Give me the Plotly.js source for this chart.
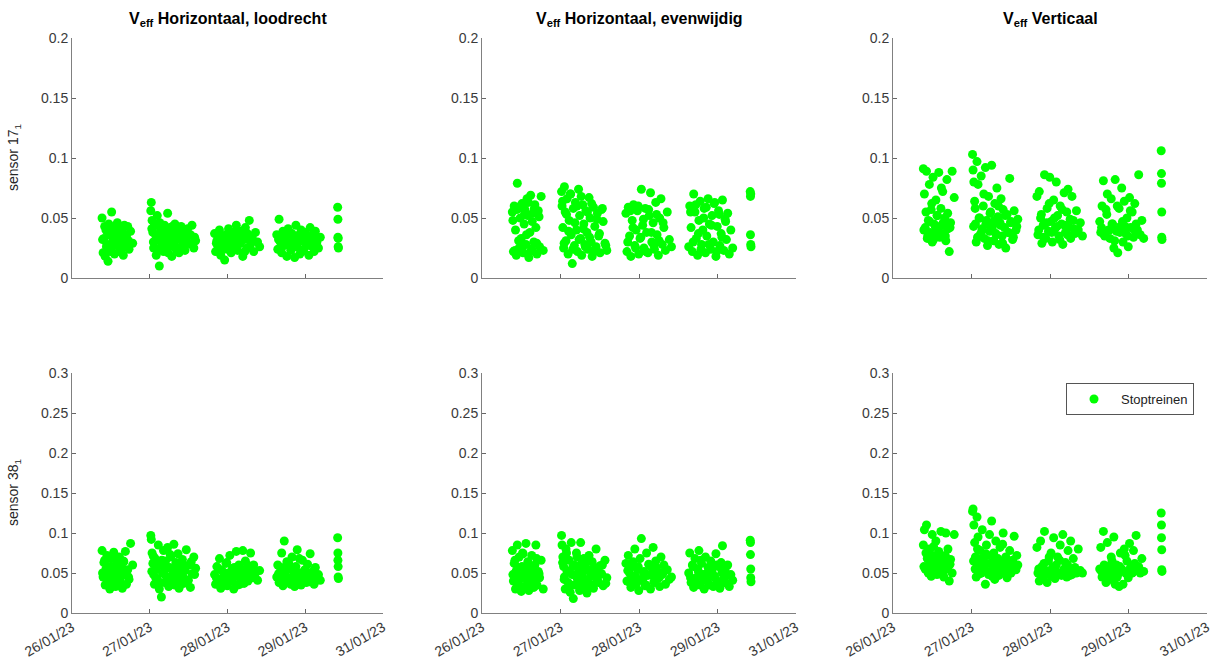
<!DOCTYPE html>
<html>
<head>
<meta charset="utf-8">
<script src="https://cdn.plot.ly/plotly-3.0.1.min.js"></script>
<style>html,body{margin:0;padding:0;background:#fff;}#chart{width:1218px;height:668px;}</style>
</head>
<body>
<div id="chart"></div>
<script>
// hours since 26/01/23 00:00, shared by all panels (same trains)
const hoursDay1 = [11.6,12.0,12.3,12.8,13.1,13.5,13.9,14.2,14.6,15.0,15.3,15.7,16.1,16.4,16.8,17.2,17.5,17.9,18.3,18.6,19.0,19.4,19.8,20.2,20.6,21.0,21.5,22.0,22.6,23.4];
const hoursDay2 = [30.4,30.6,30.9,31.2,31.5,31.8,32.1,32.5,32.9,33.3,33.7,34.1,34.5,34.9,35.3,35.7,36.1,36.5,36.9,37.3,37.7,38.1,38.5,38.9,39.3,39.7,40.1,40.5,40.9,41.3,41.7,42.1,42.6,43.1,43.6,44.1,44.6,45.1,45.7,46.3,47.0,47.7];
const hoursDay3 = [55.0,55.4,55.9,56.4,56.9,57.4,57.9,58.4,58.9,59.4,59.9,60.4,60.9,61.4,61.9,62.4,62.9,63.4,63.9,64.4,64.9,65.4,65.9,66.4,66.9,67.4,67.9,68.4,68.9,69.5,70.1,70.8,71.6,72.4];
const hoursDay4 = [79.0,79.4,79.9,80.4,80.9,81.4,81.9,82.4,82.9,83.4,83.9,84.4,84.9,85.4,85.9,86.4,86.9,87.4,87.9,88.4,88.9,89.4,89.9,90.4,90.9,91.4,91.9,92.4,92.9,93.4,93.9,94.5,95.1,95.8];
const hoursDay5 = [102.5,102.6,102.6,102.7,102.7,102.8];
const hoursDay1b = [11.8,12.6,13.3,14.0,14.8,15.5,16.2,17.0,17.7,18.5,19.2,20.0,20.9,21.8];
const hoursDay2b = [30.8,31.4,32.3,33.1,33.9,34.7,35.5,36.3,37.1,37.9,38.7,39.5,40.3,41.1,41.9,42.9,43.9,44.9,46.0,47.3];
const hoursDay3b = [55.7,56.7,57.7,58.7,59.7,60.7,61.7,62.7,63.7,64.7,65.7,66.7,67.7,69.2];
const hoursDay4b = [79.7,80.7,81.7,82.7,83.7,84.7,85.7,86.7,87.7,88.7,89.7,90.7,91.7,93.1];

// sensor 17_1, Horizontaal loodrecht
const s17HorLood = [
  0.050,0.021,0.033,0.018,0.040,0.028,0.014,0.045,0.036,0.025,0.055,0.031,0.042,0.020,0.038,0.027,0.046,0.034,0.022,0.041,0.030,0.037,0.019,0.044,0.026,0.035,0.043,0.024,0.039,0.029,
  0.056,0.063,0.048,0.038,0.025,0.045,0.031,0.019,0.052,0.034,0.010,0.041,0.027,0.036,0.022,0.044,0.030,0.039,0.054,0.026,0.033,0.042,0.018,0.037,0.029,0.045,0.024,0.035,0.040,0.021,0.032,0.043,0.027,0.038,0.023,0.034,0.041,0.029,0.036,0.044,0.025,0.031,
  0.037,0.022,0.031,0.026,0.040,0.019,0.034,0.028,0.015,0.036,0.024,0.041,0.030,0.021,0.038,0.027,0.033,0.044,0.023,0.035,0.029,0.039,0.018,0.032,0.042,0.025,0.036,0.048,0.028,0.034,0.022,0.038,0.030,0.026,
  0.036,0.024,0.049,0.030,0.021,0.039,0.027,0.034,0.018,0.041,0.029,0.023,0.037,0.032,0.017,0.044,0.026,0.035,0.020,0.040,0.031,0.024,0.038,0.028,0.033,0.019,0.042,0.027,0.036,0.022,0.039,0.030,0.025,0.034,
  0.059,0.049,0.034,0.026,0.033,0.025,
  0.032,0.043,0.026,0.038,0.022,0.035,0.029,0.041,0.033,0.024,0.039,0.028,0.036,0.031,
  0.041,0.030,0.036,0.024,0.046,0.033,0.028,0.039,0.021,0.035,0.043,0.027,0.032,0.038,0.025,0.040,0.030,0.036,0.028,0.034,
  0.029,0.035,0.023,0.033,0.027,0.037,0.031,0.025,0.040,0.029,0.034,0.022,0.037,0.031,
  0.032,0.026,0.035,0.029,0.038,0.024,0.033,0.028,0.036,0.022,0.031,0.035,0.027,0.033];
// sensor 17_1, Horizontaal evenwijdig
const s17HorEven = [
  0.055,0.022,0.060,0.040,0.019,0.079,0.058,0.025,0.050,0.033,0.062,0.021,0.045,0.057,0.028,0.066,0.052,0.017,0.038,0.069,0.024,0.054,0.030,0.061,0.042,0.020,0.056,0.026,0.068,0.023,
  0.072,0.060,0.042,0.025,0.076,0.055,0.031,0.066,0.020,0.048,0.070,0.036,0.012,0.058,0.027,0.063,0.040,0.022,0.074,0.052,0.033,0.019,0.061,0.045,0.028,0.056,0.038,0.024,0.067,0.050,0.030,0.018,0.059,0.043,0.026,0.054,0.035,0.021,0.057,0.047,0.029,0.023,
  0.054,0.022,0.059,0.035,0.018,0.048,0.061,0.027,0.040,0.056,0.020,0.033,0.074,0.044,0.025,0.058,0.038,0.021,0.052,0.071,0.030,0.046,0.024,0.063,0.036,0.019,0.050,0.066,0.028,0.042,0.023,0.055,0.032,0.026,
  0.026,0.060,0.042,0.022,0.070,0.055,0.033,0.019,0.048,0.064,0.028,0.040,0.058,0.021,0.035,0.066,0.045,0.024,0.052,0.030,0.063,0.018,0.043,0.056,0.027,0.037,0.065,0.023,0.049,0.032,0.054,0.020,0.040,0.025,
  0.072,0.068,0.036,0.028,0.070,0.026,
  0.048,0.023,0.057,0.031,0.060,0.026,0.053,0.036,0.063,0.022,0.047,0.058,0.029,0.051,
  0.064,0.029,0.053,0.039,0.070,0.024,0.046,0.060,0.032,0.068,0.041,0.026,0.055,0.034,0.062,0.022,0.049,0.037,0.058,0.027,
  0.030,0.056,0.042,0.025,0.060,0.034,0.049,0.022,0.057,0.038,0.027,0.053,0.031,0.046,
  0.055,0.030,0.061,0.037,0.024,0.050,0.059,0.028,0.044,0.062,0.022,0.053,0.034,0.047];
// sensor 17_1, Verticaal
const s17Vert = [
  0.091,0.070,0.042,0.089,0.033,0.048,0.078,0.038,0.057,0.030,0.084,0.045,0.036,0.065,0.052,0.040,0.088,0.034,0.058,0.044,0.072,0.037,0.050,0.031,0.082,0.041,0.022,0.046,0.089,0.067,
  0.103,0.090,0.080,0.064,0.045,0.030,0.097,0.078,0.050,0.036,0.085,0.041,0.060,0.033,0.092,0.048,0.027,0.068,0.039,0.055,0.094,0.044,0.031,0.062,0.037,0.075,0.051,0.028,0.046,0.066,0.035,0.057,0.042,0.025,0.053,0.038,0.083,0.047,0.032,0.056,0.040,0.049,
  0.068,0.036,0.072,0.050,0.029,0.044,0.086,0.033,0.058,0.039,0.084,0.047,0.030,0.065,0.041,0.080,0.052,0.035,0.060,0.045,0.028,0.071,0.038,0.055,0.074,0.042,0.033,0.068,0.048,0.037,0.056,0.040,0.046,0.035,
  0.047,0.038,0.060,0.081,0.035,0.057,0.070,0.040,0.033,0.066,0.045,0.025,0.082,0.039,0.021,0.058,0.043,0.075,0.030,0.064,0.037,0.050,0.026,0.067,0.042,0.055,0.034,0.062,0.045,0.040,0.086,0.036,0.048,0.033,
  0.106,0.087,0.079,0.055,0.034,0.032,
  0.040,0.055,0.035,0.047,0.062,0.032,0.043,0.052,0.038,0.075,0.046,0.035,0.054,0.042,
  0.043,0.058,0.034,0.050,0.039,0.070,0.045,0.031,0.054,0.041,0.048,0.036,0.060,0.044,0.029,0.052,0.038,0.046,0.034,0.043,
  0.040,0.053,0.034,0.046,0.062,0.038,0.050,0.043,0.032,0.057,0.044,0.036,0.049,0.041,
  0.042,0.036,0.053,0.040,0.045,0.031,0.060,0.038,0.047,0.043,0.035,0.056,0.041,0.039];
// sensor 38_1, Horizontaal loodrecht
const s38HorLood = [
  0.078,0.045,0.063,0.035,0.055,0.072,0.041,0.050,0.030,0.068,0.058,0.038,0.076,0.047,0.033,0.062,0.052,0.040,0.070,0.044,0.057,0.031,0.065,0.048,0.077,0.036,0.054,0.042,0.087,0.060,
  0.097,0.092,0.075,0.062,0.048,0.036,0.068,0.055,0.042,0.085,0.030,0.060,0.020,0.050,0.078,0.038,0.065,0.045,0.082,0.033,0.057,0.070,0.040,0.052,0.086,0.035,0.063,0.046,0.074,0.031,0.058,0.043,0.067,0.037,0.053,0.079,0.041,0.060,0.032,0.049,0.070,0.056,
  0.048,0.036,0.058,0.042,0.068,0.031,0.053,0.045,0.038,0.062,0.034,0.050,0.072,0.040,0.056,0.030,0.046,0.077,0.035,0.060,0.043,0.052,0.078,0.037,0.065,0.047,0.040,0.055,0.075,0.044,0.060,0.050,0.041,0.053,
  0.045,0.060,0.038,0.052,0.075,0.034,0.090,0.048,0.064,0.040,0.055,0.036,0.070,0.046,0.033,0.058,0.079,0.042,0.050,0.035,0.066,0.044,0.054,0.038,0.061,0.047,0.074,0.040,0.052,0.036,0.057,0.043,0.048,0.041,
  0.094,0.075,0.066,0.058,0.045,0.043,
  0.050,0.066,0.043,0.058,0.037,0.053,0.071,0.046,0.060,0.040,0.055,0.064,0.048,0.045,
  0.052,0.071,0.044,0.060,0.038,0.066,0.049,0.056,0.043,0.073,0.047,0.054,0.039,0.062,0.050,0.045,0.058,0.041,0.064,0.048,
  0.044,0.055,0.039,0.050,0.063,0.046,0.041,0.057,0.049,0.036,0.054,0.043,0.060,0.047,
  0.049,0.041,0.057,0.044,0.062,0.038,0.051,0.046,0.068,0.040,0.053,0.045,0.039,0.050];
// sensor 38_1, Horizontaal evenwijdig
const s38HorEven = [
  0.078,0.040,0.062,0.030,0.053,0.085,0.036,0.070,0.046,0.027,0.058,0.074,0.033,0.050,0.087,0.042,0.064,0.028,0.055,0.038,0.072,0.047,0.032,0.060,0.085,0.035,0.052,0.044,0.066,0.030,
  0.097,0.085,0.070,0.058,0.045,0.030,0.080,0.052,0.038,0.066,0.026,0.088,0.048,0.018,0.060,0.035,0.075,0.042,0.055,0.028,0.088,0.050,0.033,0.068,0.040,0.062,0.025,0.054,0.072,0.036,0.046,0.064,0.031,0.056,0.080,0.043,0.038,0.059,0.049,0.034,0.066,0.044,
  0.062,0.040,0.072,0.050,0.032,0.058,0.045,0.080,0.036,0.055,0.028,0.068,0.093,0.042,0.052,0.034,0.075,0.047,0.060,0.030,0.056,0.082,0.038,0.065,0.044,0.051,0.033,0.070,0.048,0.060,0.036,0.054,0.042,0.045,
  0.050,0.075,0.038,0.060,0.032,0.068,0.044,0.055,0.078,0.035,0.062,0.048,0.030,0.070,0.042,0.057,0.036,0.065,0.052,0.033,0.046,0.074,0.040,0.058,0.031,0.063,0.084,0.045,0.054,0.037,0.060,0.033,0.048,0.041,
  0.091,0.088,0.073,0.055,0.044,0.039,
  0.048,0.066,0.038,0.057,0.043,0.075,0.051,0.034,0.062,0.045,0.055,0.039,0.068,0.049,
  0.063,0.042,0.075,0.052,0.035,0.058,0.047,0.070,0.039,0.061,0.044,0.053,0.032,0.066,0.049,0.057,0.040,0.050,0.060,0.037,
  0.053,0.037,0.064,0.046,0.058,0.041,0.050,0.035,0.061,0.048,0.039,0.057,0.044,0.050,
  0.044,0.058,0.036,0.052,0.066,0.041,0.049,0.035,0.055,0.045,0.060,0.038,0.051,0.046];
// sensor 38_1, Verticaal
const s38Vert = [
  0.085,0.104,0.055,0.110,0.068,0.050,0.080,0.060,0.046,0.098,0.072,0.053,0.063,0.090,0.048,0.058,0.077,0.066,0.102,0.052,0.070,0.045,0.062,0.100,0.056,0.080,0.040,0.067,0.050,0.098,
  0.127,0.130,0.110,0.088,0.070,0.045,0.120,0.095,0.060,0.078,0.050,0.104,0.066,0.055,0.036,0.085,0.072,0.048,0.098,0.062,0.115,0.053,0.075,0.042,0.090,0.058,0.068,0.047,0.082,0.064,0.052,0.100,0.060,0.070,0.044,0.056,0.078,0.050,0.066,0.096,0.054,0.060,
  0.082,0.050,0.040,0.090,0.058,0.045,0.102,0.053,0.038,0.065,0.048,0.075,0.056,0.094,0.043,0.060,0.070,0.050,0.085,0.047,0.098,0.055,0.063,0.045,0.078,0.052,0.090,0.048,0.068,0.057,0.050,0.080,0.053,0.050,
  0.055,0.082,0.045,0.102,0.050,0.038,0.088,0.058,0.042,0.070,0.052,0.095,0.036,0.060,0.048,0.033,0.075,0.055,0.036,0.080,0.050,0.065,0.044,0.087,0.057,0.050,0.078,0.062,0.097,0.053,0.058,0.050,0.068,0.052,
  0.125,0.110,0.094,0.079,0.054,0.052,
  0.058,0.075,0.052,0.064,0.048,0.083,0.057,0.068,0.054,0.060,0.047,0.072,0.055,0.061,
  0.065,0.055,0.080,0.049,0.068,0.058,0.074,0.052,0.062,0.046,0.070,0.057,0.064,0.051,0.086,0.059,0.048,0.063,0.055,0.072,
  0.055,0.048,0.062,0.052,0.070,0.046,0.058,0.051,0.066,0.049,0.054,0.060,0.047,0.053,
  0.052,0.060,0.047,0.055,0.065,0.050,0.045,0.058,0.053,0.072,0.049,0.056,0.051,0.054];

const panelTitles = ['V<sub>eff</sub> Horizontaal, loodrecht','V<sub>eff</sub> Horizontaal, evenwijdig','V<sub>eff</sub> Verticaal'];
const rowLabels = ['sensor 17<sub>1</sub>','sensor 38<sub>1</sub>'];
const xTickVals = ['2023-01-26 00:00','2023-01-27 06:00','2023-01-28 12:00','2023-01-29 18:00','2023-01-31 00:00'];
const xTickText = ['26/01/23','27/01/23','28/01/23','29/01/23','31/01/23'];
const yTopVals = [0,0.05,0.1,0.15,0.2];
const yTopText = ['0','0.05','0.1','0.15','0.2'];
const yBotVals = [0,0.05,0.1,0.15,0.2,0.25,0.3];
const yBotText = ['0','0.05','0.1','0.15','0.2','0.25','0.3'];
const legendName = 'Stoptreinen';

const allHours = hoursDay1.concat(hoursDay2, hoursDay3, hoursDay4, hoursDay5, hoursDay1b, hoursDay2b, hoursDay3b, hoursDay4b);
const base = Date.UTC(2023,0,26);
const xDates = allHours.map(h => new Date(base + h*3600000).toISOString().replace('T',' ').replace('Z',''));

const W = 1218, H = 668;
const colPx = [[72,383],[482,796],[893,1207]];
const rowPx = [[38,278],[373,613]];
const series = [s17HorLood, s17HorEven, s17Vert, s38HorLood, s38HorEven, s38Vert];

const axisFont = {family:'Liberation Sans, Arial, sans-serif', size:14, color:'#3a3a3a'};
const traces = [];
const layout = {
  width:W, height:H, margin:{l:0,r:0,t:0,b:0},
  paper_bgcolor:'#fff', plot_bgcolor:'#fff',
  showlegend:true,
  legend:{x:1194/W, xanchor:'right', y:1-383/H, yanchor:'top', bgcolor:'#fff', bordercolor:'#555', borderwidth:1,
          font:{family:'Liberation Sans, Arial, sans-serif', size:13, color:'#222'}, itemwidth:44},
  annotations:[]
};

for (let r=0;r<2;r++){
  for (let c=0;c<3;c++){
    const i = r*3+c+1;
    const xa = i===1?'xaxis':'xaxis'+i, ya = i===1?'yaxis':'yaxis'+i;
    layout[xa] = {
      domain:[colPx[c][0]/W, colPx[c][1]/W], anchor:'y'+(i===1?'':i), type:'date',
      range:['2023-01-26 00:00','2023-01-31 00:00'],
      tickmode:'array', tickvals:xTickVals, ticktext:xTickText, showticklabels:r===1,
      tickangle:-30, ticks:'inside', ticklen:4, tickcolor:'#666',
      showgrid:false, zeroline:false, showline:true, linecolor:'#808080', linewidth:1,
      tickfont:axisFont, fixedrange:true
    };
    layout[ya] = {
      domain:[1-rowPx[r][1]/H, 1-rowPx[r][0]/H], anchor:'x'+(i===1?'':i),
      range: r===0?[0,0.2]:[0,0.3],
      tickmode:'array', tickvals: r===0?yTopVals:yBotVals, ticktext: r===0?yTopText:yBotText,
      ticks:'inside', ticklen:4, tickcolor:'#666',
      showgrid:false, zeroline:false, showline:true, linecolor:'#808080', linewidth:1,
      tickfont:axisFont, fixedrange:true
    };
    traces.push({
      type:'scatter', mode:'markers', x:xDates, y:series[r*3+c],
      xaxis:'x'+(i===1?'':i), yaxis:'y'+(i===1?'':i),
      marker:{color:'#00ff00', size:9, line:{width:0}},
      name:legendName, legendgroup:'st', showlegend:(i===6), cliponaxis:false
    });
  }
}
for (let c=0;c<3;c++){
  layout.annotations.push({
    xref:'paper', yref:'paper', x:(colPx[c][0]+colPx[c][1])/2/W, y:1-19/H,
    xanchor:'center', yanchor:'middle', showarrow:false,
    text:'<b>'+panelTitles[c]+'</b>',
    font:{family:'Liberation Sans, Arial, sans-serif', size:16, color:'#000'}
  });
}
for (let r=0;r<2;r++){
  layout.annotations.push({
    xref:'paper', yref:'paper', x:14/W, y:1-((rowPx[r][0]+rowPx[r][1])/2)/H,
    xanchor:'center', yanchor:'middle', showarrow:false, textangle:-90,
    text:rowLabels[r],
    font:{family:'Liberation Sans, Arial, sans-serif', size:14, color:'#262626'}
  });
}
Plotly.newPlot('chart', traces, layout, {displayModeBar:false, staticPlot:true});
</script>
</body>
</html>
